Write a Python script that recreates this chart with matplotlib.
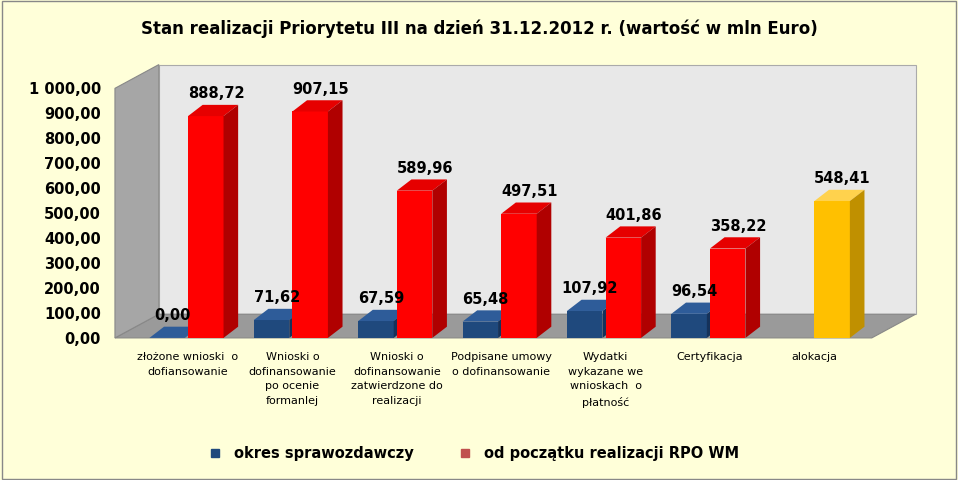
import matplotlib.pyplot as plt
from matplotlib.patches import Polygon, Rectangle
from matplotlib.lines import Line2D

categories = ["złożone wnioski  o\ndofiansowanie",
              "Wnioski o\ndofinansowanie\npo ocenie\nformanlej",
              "Wnioski o\ndofinansowanie\nzatwierdzone do\nrealizacji",
              "Podpisane umowy\no dofinansowanie",
              "Wydatki\nwykazane we\nwnioskach  o\npłatność",
              "Certyfikacja",
              "alokacja"]
okres = [0.00, 71.62, 67.59, 65.48, 107.92, 96.54]
od_poczatku = [888.72, 907.15, 589.96, 497.51, 401.86, 358.22, 548.41]
yticks = [0, 100, 200, 300, 400, 500, 600, 700, 800, 900, 1000]


def fmt(v):
    s = f"{v:,.2f}"
    return s.replace(",", " ").replace(".", ",")


fig = plt.figure(figsize=(9.58, 4.8), dpi=100, facecolor="#FFFFD9")
fig.patches.append(Rectangle((0.002, 0.002), 0.996, 0.996, transform=fig.transFigure,
                             fill=False, edgecolor="#888888", lw=1))
ax = fig.add_axes([0.12, 0.296, 0.79, 0.52])
ax.set_facecolor("none")
x0, x1 = -0.7, 6.55
ax.set_xlim(x0, x1)
ax.set_ylim(0, 1000)

# wall depth
wx, wy = 0.42, 95
ax.add_patch(Polygon([(x0 + wx, wy), (x1 + wx, wy), (x1 + wx, 1000 + wy), (x0 + wx, 1000 + wy)],
                     closed=True, fc="#E8E8E8", ec="#AAAAAA", lw=0.8, clip_on=False, zorder=0))
ax.add_patch(Polygon([(x0, 0), (x1, 0), (x1 + wx, wy), (x0 + wx, wy)],
                     closed=True, fc="#9A9A9A", ec="#888888", lw=0.8, clip_on=False, zorder=0))
ax.add_patch(Polygon([(x0, 0), (x0 + wx, wy), (x0 + wx, 1000 + wy), (x0, 1000)],
                     closed=True, fc="#A6A6A6", ec="#888888", lw=0.8, clip_on=False, zorder=0))

dx, dy = 0.14, 45


def bar3d(x, w, h, front, top, side, z):
    ax.add_patch(Rectangle((x - w / 2, 0), w, h, fc=front, ec="none", zorder=z))
    ax.add_patch(Polygon([(x - w / 2, h), (x + w / 2, h), (x + w / 2 + dx, h + dy), (x - w / 2 + dx, h + dy)],
                         closed=True, fc=top, ec="none", zorder=z))
    ax.add_patch(Polygon([(x + w / 2, 0), (x + w / 2 + dx, dy), (x + w / 2 + dx, h + dy), (x + w / 2, h)],
                         closed=True, fc=side, ec="none", zorder=z))


w = 0.34
for i, v in enumerate(okres):
    x = i - 0.2
    bar3d(x, w, v, "#1F497D", "#2E5C99", "#15325A", 2)
    ax.text(x + 0.05, v + dy + 15, fmt(v), ha="center", va="bottom", fontsize=10.5,
            fontweight="bold", zorder=5)
for i, v in enumerate(od_poczatku):
    x = i + 0.17
    if i == 6:
        bar3d(x, w, v, "#FFC000", "#FFD24D", "#C09000", 3)
    else:
        bar3d(x, w, v, "#FF0000", "#E60000", "#B00000", 3)
    ax.text(x + 0.1, v + dy + 15, fmt(v), ha="center", va="bottom", fontsize=10.5,
            fontweight="bold", zorder=5)

ax.set_yticks(yticks)
ax.set_yticklabels([fmt(v) for v in yticks], fontsize=10.5, fontweight="bold")
ax.set_xticks(range(len(categories)))
ax.set_xticklabels(categories, fontsize=8, va="top", linespacing=1.6)
ax.tick_params(length=0, pad=10)
for s in ax.spines.values():
    s.set_visible(False)

fig.text(0.5, 0.94, "Stan realizacji Priorytetu III na dzień 31.12.2012 r. (wartość w mln Euro)",
         ha="center", va="center", fontsize=12, fontweight="bold")

handles = [Line2D([], [], marker="s", ls="none", color="#1F497D", markersize=6),
           Line2D([], [], marker="s", ls="none", color="#C0504D", markersize=6)]
fig.legend(handles, ["okres sprawozdawczy", "od początku realizacji RPO WM"], loc="center",
           bbox_to_anchor=(0.49, 0.055), ncol=2, frameon=False,
           prop={"size": 10.5, "weight": "bold"}, columnspacing=2.5, handletextpad=0.3)

fig.savefig("out.png", dpi=100, facecolor=fig.get_facecolor())
